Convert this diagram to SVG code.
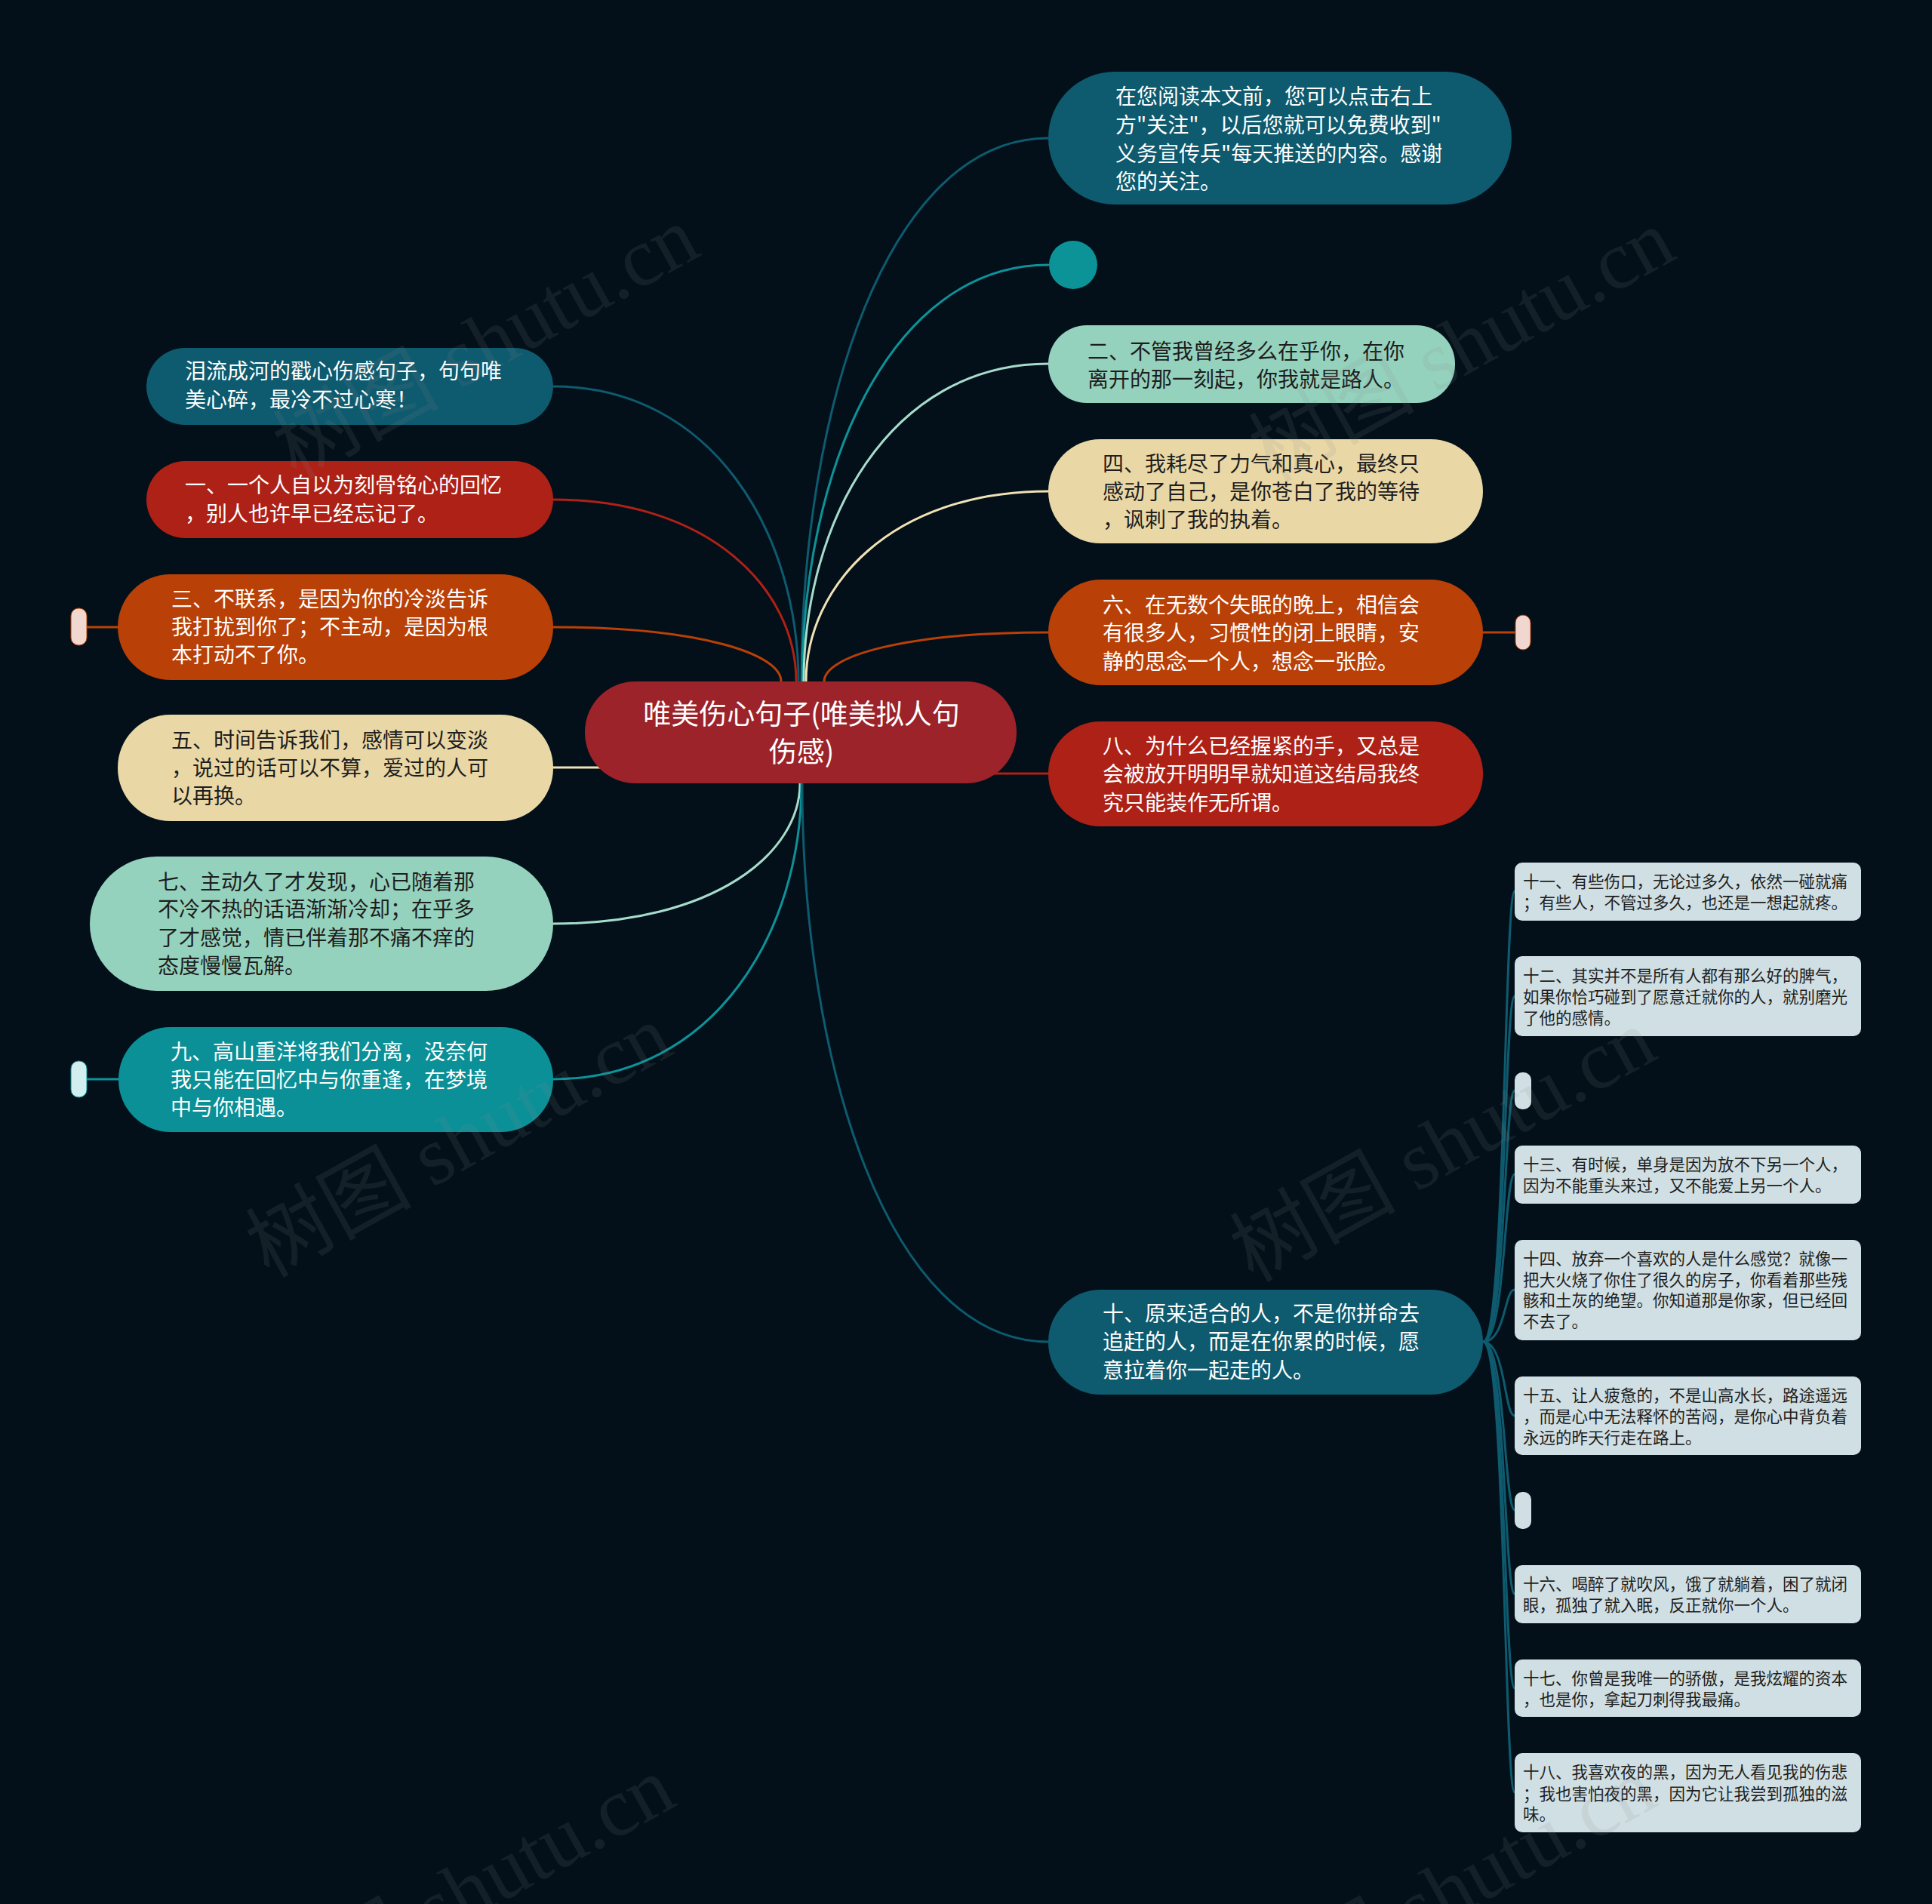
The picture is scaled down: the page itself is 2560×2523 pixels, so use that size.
<svg xmlns="http://www.w3.org/2000/svg" width="2560" height="2523" viewBox="0 0 2560 2523">
<defs>
<style>
.t{font-family:"Noto Sans CJK SC","Noto Sans",sans-serif;font-size:28px}
.s{font-family:"Noto Sans CJK SC","Noto Sans",sans-serif;font-size:21.5px;fill:#1e1e1e}
.w{fill:#ffffff}
.d{fill:#1e1e1e}
.c{fill:none;stroke-width:3;stroke-linecap:round}
.wm{font-family:"Liberation Serif","Noto Sans CJK SC",serif;font-size:110px;fill:#8a8a8a;opacity:0.13}
</style>
</defs>
<rect x="0" y="0" width="2560" height="2523" fill="#03101a"/>

<g id="connectors">
<path class="c" stroke="#0e5a6e" d="M1062,903 C1062,543 1176,183 1389,183"/>
<path class="c" stroke="#0d9298" d="M1063,903 C1063,627 1177,351 1389,351"/>
<path class="c" stroke="#a6dccb" d="M1065,903 C1065,692 1178,482 1389,482"/>
<path class="c" stroke="#f0e2b4" d="M1068,903 C1068,777 1180,651 1389,651"/>
<path class="c" stroke="#b94006" d="M1092,903 C1092,870 1196,838 1389,838"/>
<path class="c" stroke="#ae2116" d="M1300,1025 L1389,1025"/>
<path class="c" stroke="#0e5a6e" d="M1058,903 C1058,707 944,512 733,512"/>
<path class="c" stroke="#ae2116" d="M1055,903 C1055,782 942,662 733,662"/>
<path class="c" stroke="#b94006" d="M1035,903 C1035,867 929,831 733,831"/>
<path class="c" stroke="#f0e2b4" d="M733,1017 L800,1017"/>
<path class="c" stroke="#a6dccb" d="M1060,1038 C1060,1131 946,1224 733,1224"/>
<path class="c" stroke="#0d9298" d="M1062,1038 C1062,1234 947,1430 733,1430"/>
<path class="c" stroke="#0e5a6e" d="M1063,1038 C1063,1408 1177,1778 1389,1778"/>
<path class="c" stroke="#b94006" d="M115,831 L156,831"/>
<path class="c" stroke="#0d9298" d="M115,1430 L157,1430"/>
<path class="c" stroke="#b94006" d="M1965,838 L2008,838"/>
<path class="c" stroke="#0e5a6e" d="M1965,1778 C1995,1778 1993,1181 2007,1181"/>
<path class="c" stroke="#0e5a6e" d="M1965,1778 C1995,1778 1993,1320 2007,1320"/>
<path class="c" stroke="#0e5a6e" d="M1965,1778 C1995,1778 1993,1445 2007,1445"/>
<path class="c" stroke="#0e5a6e" d="M1965,1778 C1995,1778 1993,1556 2007,1556"/>
<path class="c" stroke="#0e5a6e" d="M1965,1778 C1995,1778 1993,1709 2007,1709"/>
<path class="c" stroke="#0e5a6e" d="M1965,1778 C1995,1778 1993,1876 2007,1876"/>
<path class="c" stroke="#0e5a6e" d="M1965,1778 C1995,1778 1993,2001 2007,2001"/>
<path class="c" stroke="#0e5a6e" d="M1965,1778 C1995,1778 1993,2112 2007,2112"/>
<path class="c" stroke="#0e5a6e" d="M1965,1778 C1995,1778 1993,2237 2007,2237"/>
<path class="c" stroke="#0e5a6e" d="M1965,1778 C1995,1778 1993,2375 2007,2375"/>
</g>

<g id="center">
<rect x="775" y="903" width="572" height="135" rx="67" fill="#9c2329"/>
<text class="t w" style="font-size:37px" x="1062" y="960" text-anchor="middle">唯美伤心句子(唯美拟人句</text>
<text class="t w" style="font-size:37px" x="1062" y="1010" text-anchor="middle">伤感)</text>
</g>

<g id="n-intro">
<rect x="1389" y="95" width="614" height="176" rx="88" fill="#0e5a6e"/>
<text class="t w" x="1478" y="138">在您阅读本文前，您可以点击右上</text>
<text class="t w" x="1478" y="176">方"关注"，以后您就可以免费收到"</text>
<text class="t w" x="1478" y="214">义务宣传兵"每天推送的内容。感谢</text>
<text class="t w" x="1478" y="251">您的关注。</text>
</g>

<g id="n-dot">
<circle cx="1422" cy="351" r="32" fill="#0b9398"/>
</g>

<g id="n2">
<rect x="1389" y="431" width="539" height="103" rx="51" fill="#95d2bd"/>
<text class="t d" x="1441" y="476">二、不管我曾经多么在乎你，在你</text>
<text class="t d" x="1441" y="513">离开的那一刻起，你我就是路人。</text>
</g>

<g id="n4">
<rect x="1389" y="582" width="576" height="138" rx="69" fill="#e9d8a6"/>
<text class="t d" x="1461" y="625">四、我耗尽了力气和真心，最终只</text>
<text class="t d" x="1461" y="662">感动了自己，是你苍白了我的等待</text>
<text class="t d" x="1461" y="699">，讽刺了我的执着。</text>
</g>

<g id="n6">
<rect x="1389" y="768" width="576" height="140" rx="70" fill="#b94006"/>
<text class="t w" x="1461" y="812">六、在无数个失眠的晚上，相信会</text>
<text class="t w" x="1461" y="849">有很多人，习惯性的闭上眼睛，安</text>
<text class="t w" x="1461" y="887">静的思念一个人，想念一张脸。</text>
</g>
<g id="n6-pill">
<rect x="2008" y="815" width="20" height="46" rx="10" fill="#f0d8d0" stroke="#b94006" stroke-width="1"/>
</g>

<g id="n8">
<rect x="1389" y="956" width="576" height="139" rx="69" fill="#ae2116"/>
<text class="t w" x="1461" y="999">八、为什么已经握紧的手，又总是</text>
<text class="t w" x="1461" y="1036">会被放开明明早就知道这结局我终</text>
<text class="t w" x="1461" y="1074">究只能装作无所谓。</text>
</g>

<g id="n10">
<rect x="1389" y="1709" width="576" height="139" rx="69" fill="#0e5a6e"/>
<text class="t w" x="1461" y="1751">十、原来适合的人，不是你拼命去</text>
<text class="t w" x="1461" y="1788">追赶的人，而是在你累的时候，愿</text>
<text class="t w" x="1461" y="1826">意拉着你一起走的人。</text>
</g>

<g id="n-title">
<rect x="194" y="461" width="539" height="102" rx="51" fill="#0e5a6e"/>
<text class="t w" x="245" y="502">泪流成河的戳心伤感句子，句句唯</text>
<text class="t w" x="245" y="540">美心碎，最冷不过心寒！</text>
</g>

<g id="n1">
<rect x="194" y="611" width="539" height="102" rx="51" fill="#ae2116"/>
<text class="t w" x="245" y="653">一、一个人自以为刻骨铭心的回忆</text>
<text class="t w" x="245" y="691">，别人也许早已经忘记了。</text>
</g>

<g id="n3">
<rect x="156" y="761" width="577" height="140" rx="70" fill="#b94006"/>
<text class="t w" x="227" y="804">三、不联系，是因为你的冷淡告诉</text>
<text class="t w" x="227" y="841">我打扰到你了；不主动，是因为根</text>
<text class="t w" x="227" y="878">本打动不了你。</text>
</g>
<g id="n3-pill">
<rect x="94" y="806" width="21" height="49" rx="10" fill="#f0d8d0" stroke="#b94006" stroke-width="1"/>
</g>

<g id="n5">
<rect x="156" y="947" width="577" height="141" rx="70" fill="#e9d8a6"/>
<text class="t d" x="227" y="991">五、时间告诉我们，感情可以变淡</text>
<text class="t d" x="227" y="1028">，说过的话可以不算，爱过的人可</text>
<text class="t d" x="227" y="1065">以再换。</text>
</g>

<g id="n7">
<rect x="119" y="1135" width="614" height="178" rx="89" fill="#95d2bd"/>
<text class="t d" x="209" y="1179">七、主动久了才发现，心已随着那</text>
<text class="t d" x="209" y="1215">不冷不热的话语渐渐冷却；在乎多</text>
<text class="t d" x="209" y="1253">了才感觉，情已伴着那不痛不痒的</text>
<text class="t d" x="209" y="1290">态度慢慢瓦解。</text>
</g>

<g id="n9">
<rect x="157" y="1361" width="576" height="139" rx="69" fill="#0b9097"/>
<text class="t w" x="226" y="1404">九、高山重洋将我们分离，没奈何</text>
<text class="t w" x="226" y="1441">我只能在回忆中与你重逢，在梦境</text>
<text class="t w" x="226" y="1478">中与你相遇。</text>
</g>
<g id="n9-pill">
<rect x="94" y="1406" width="21" height="48" rx="10" fill="#d3eeee" stroke="#0b9097" stroke-width="1"/>
</g>

<g id="n11">
<rect x="2007" y="1143" width="459" height="77" rx="10" fill="#d0dfe3"/>
<text class="s" x="2018" y="1176">十一、有些伤口，无论过多久，依然一碰就痛</text>
<text class="s" x="2018" y="1204">；有些人，不管过多久，也还是一想起就疼。</text>
</g>
<g id="n12">
<rect x="2007" y="1267" width="459" height="106" rx="10" fill="#d0dfe3"/>
<text class="s" x="2018" y="1301">十二、其实并不是所有人都有那么好的脾气，</text>
<text class="s" x="2018" y="1329">如果你恰巧碰到了愿意迁就你的人，就别磨光</text>
<text class="s" x="2018" y="1357">了他的感情。</text>
</g>
<g id="n-pill-a">
<rect x="2007" y="1421" width="22" height="49" rx="10" fill="#d0dfe3"/>
</g>
<g id="n13">
<rect x="2007" y="1518" width="459" height="77" rx="10" fill="#d0dfe3"/>
<text class="s" x="2018" y="1551">十三、有时候，单身是因为放不下另一个人，</text>
<text class="s" x="2018" y="1579">因为不能重头来过，又不能爱上另一个人。</text>
</g>
<g id="n14">
<rect x="2007" y="1643" width="459" height="133" rx="10" fill="#d0dfe3"/>
<text class="s" x="2018" y="1676">十四、放弃一个喜欢的人是什么感觉？就像一</text>
<text class="s" x="2018" y="1704">把大火烧了你住了很久的房子，你看着那些残</text>
<text class="s" x="2018" y="1731">骸和土灰的绝望。你知道那是你家，但已经回</text>
<text class="s" x="2018" y="1759">不去了。</text>
</g>
<g id="n15">
<rect x="2007" y="1824" width="459" height="104" rx="10" fill="#d0dfe3"/>
<text class="s" x="2018" y="1857">十五、让人疲惫的，不是山高水长，路途遥远</text>
<text class="s" x="2018" y="1885">，而是心中无法释怀的苦闷，是你心中背负着</text>
<text class="s" x="2018" y="1913">永远的昨天行走在路上。</text>
</g>
<g id="n-pill-b">
<rect x="2007" y="1977" width="22" height="49" rx="10" fill="#d0dfe3"/>
</g>
<g id="n16">
<rect x="2007" y="2074" width="459" height="77" rx="10" fill="#d0dfe3"/>
<text class="s" x="2018" y="2107">十六、喝醉了就吹风，饿了就躺着，困了就闭</text>
<text class="s" x="2018" y="2135">眼，孤独了就入眠，反正就你一个人。</text>
</g>
<g id="n17">
<rect x="2007" y="2199" width="459" height="76" rx="10" fill="#d0dfe3"/>
<text class="s" x="2018" y="2232">十七、你曾是我唯一的骄傲，是我炫耀的资本</text>
<text class="s" x="2018" y="2260">，也是你，拿起刀刺得我最痛。</text>
</g>
<g id="n18">
<rect x="2007" y="2323" width="459" height="105" rx="10" fill="#d0dfe3"/>
<text class="s" x="2018" y="2356">十八、我喜欢夜的黑，因为无人看见我的伤悲</text>
<text class="s" x="2018" y="2385">；我也害怕夜的黑，因为它让我尝到孤独的滋</text>
<text class="s" x="2018" y="2412">味。</text>
</g>

<g id="watermarks">
<text class="wm" transform="translate(392,636) rotate(-29)">树图 shutu.cn</text>
<text class="wm" transform="translate(1685,640) rotate(-29)">树图 shutu.cn</text>
<text class="wm" transform="translate(356,1694) rotate(-29)">树图 shutu.cn</text>
<text class="wm" transform="translate(1660,1700) rotate(-29)">树图 shutu.cn</text>
<text class="wm" transform="translate(360,2690) rotate(-29)">树图 shutu.cn</text>
<text class="wm" transform="translate(1660,2690) rotate(-29)">树图 shutu.cn</text>
</g>
</svg>
